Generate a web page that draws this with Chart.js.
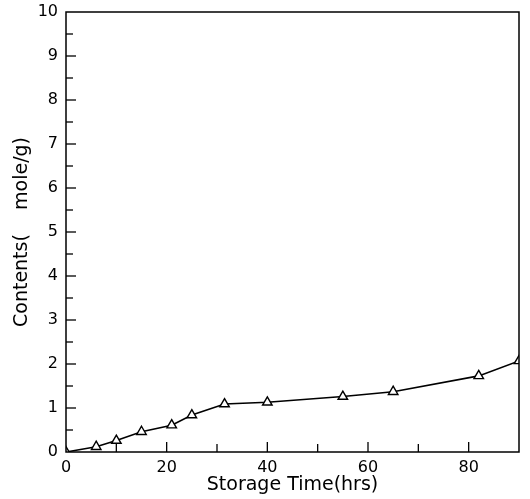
<!DOCTYPE html>
<html>
<head>
  <meta charset="UTF-8">
  <title>Contents vs Storage Time</title>
  <script src="https://cdn.jsdelivr.net/npm/chart.js"></script>
  <style>
    html, body { margin: 0; padding: 0; background: #fff; }
    #wrap { width: 530px; height: 499px; }
  </style>
</head>
<body>
  <div id="wrap"><canvas id="chart" width="530" height="499"></canvas></div>
  <script>
    // values
    const hours    = [0, 6, 10, 15, 21, 25, 31.5, 40, 55, 65, 82, 90];
    const contents = [0, 0.12, 0.26, 0.46, 0.61, 0.84, 1.09, 1.13, 1.26, 1.37, 1.73, 2.07];
    const xTicks = [0, 20, 40, 60, 80];
    const yTicks = [0, 1, 2, 3, 4, 5, 6, 7, 8, 9, 10];

    const font = { family: 'DejaVu Sans', size: 16 };
    const titleFont = { family: 'DejaVu Sans', size: 19 };

    // inward tick marks + frame, drawn from the scales
    const frameTicks = {
      id: 'frameTicks',
      afterDraw(chart) {
        const { ctx, chartArea: a, scales: { x, y } } = chart;
        ctx.save();
        ctx.strokeStyle = '#000';
        ctx.lineWidth = 1.5;
        ctx.strokeRect(a.left, a.top, a.right - a.left, a.bottom - a.top);
        ctx.lineWidth = 1.3;
        for (let v = 10; v < 90; v += 10) {
          const px = x.getPixelForValue(v);
          const len = v % 20 === 0 ? 10 : 8;
          ctx.beginPath(); ctx.moveTo(px, a.bottom); ctx.lineTo(px, a.bottom - len); ctx.stroke();
        }
        for (let v = 0.5; v < 10; v += 0.5) {
          const py = y.getPixelForValue(v);
          const len = v % 1 === 0 ? 10 : 7;
          ctx.beginPath(); ctx.moveTo(a.left, py); ctx.lineTo(a.left + len, py); ctx.stroke();
        }
        ctx.restore();
      }
    };

    new Chart(document.getElementById('chart'), {
      type: 'line',
      data: {
        labels: hours,
        datasets: [{
          data: hours.map((h, i) => ({ x: h, y: contents[i] })),
          borderColor: '#000',
          borderWidth: 1.6,
          pointStyle: 'triangle',
          pointRadius: 5.5,
          pointBorderWidth: 1.4,
          pointBorderColor: '#000',
          pointBackgroundColor: '#fff',
          tension: 0
        }]
      },
      options: {
        responsive: false,
        animation: false,
        layout: { padding: { top: 12, right: 11, left: 0, bottom: 0 } },
        plugins: { legend: { display: false }, tooltip: { enabled: false } },
        scales: {
          x: {
            type: 'linear',
            min: 0, max: 90,
            afterBuildTicks: s => { s.ticks = xTicks.map(v => ({ value: v })); },
            afterFit: s => { s.height = 47; s.paddingLeft = 0; s.paddingRight = 0; },
            grid: { display: false, drawTicks: false },
            border: { display: false },
            ticks: { color: '#000', font, padding: 6, maxRotation: 0 },
            title: { display: true, text: 'Storage Time(hrs)', color: '#000', font: titleFont, padding: { top: 0, bottom: 3 } }
          },
          y: {
            min: 0, max: 10,
            afterBuildTicks: s => { s.ticks = yTicks.map(v => ({ value: v })); },
            afterFit: s => { s.width = 66; s.paddingTop = 0; s.paddingBottom = 0; },
            grid: { display: false, drawTicks: false },
            border: { display: false },
            ticks: { color: '#000', font, padding: 8 },
            title: { display: true, text: 'Contents(    mole/g)', color: '#000', font: titleFont, padding: { top: 11, bottom: 0 } }
          }
        }
      },
      plugins: [frameTicks]
    });
  </script>
</body>
</html>
